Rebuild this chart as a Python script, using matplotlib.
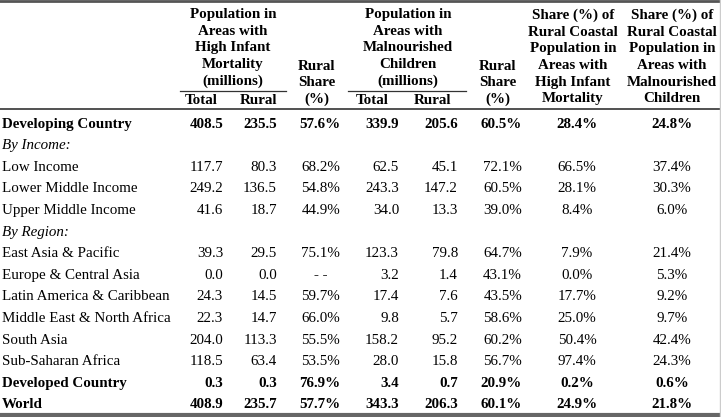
import matplotlib.pyplot as plt

# row labels and values
rows = ["Developing Country", "By Income:", "Low Income", "Lower Middle Income",
        "Upper Middle Income", "By Region:", "East Asia & Pacific",
        "Europe & Central Asia", "Latin America & Caribbean",
        "Middle East & North Africa", "South Asia", "Sub-Saharan Africa",
        "Developed Country", "World"]
bold_rows = ["Developing Country", "Developed Country", "World"]
section_rows = ["By Income:", "By Region:"]

him_total = ["408.5", "", "117.7", "249.2", "41.6", "", "39.3", "0.0", "24.3", "22.3", "204.0", "118.5", "0.3", "408.9"]
him_rural = ["235.5", "", "80.3", "136.5", "18.7", "", "29.5", "0.0", "14.5", "14.7", "113.3", "63.4", "0.3", "235.7"]
him_share = ["57.6%", "", "68.2%", "54.8%", "44.9%", "", "75.1%", "--", "59.7%", "66.0%", "55.5%", "53.5%", "76.9%", "57.7%"]
mal_total = ["339.9", "", "62.5", "243.3", "34.0", "", "123.3", "3.2", "17.4", "9.8", "158.2", "28.0", "3.4", "343.3"]
mal_rural = ["205.6", "", "45.1", "147.2", "13.3", "", "79.8", "1.4", "7.6", "5.7", "95.2", "15.8", "0.7", "206.3"]
mal_share = ["60.5%", "", "72.1%", "60.5%", "39.0%", "", "64.7%", "43.1%", "43.5%", "58.6%", "60.2%", "56.7%", "20.9%", "60.1%"]
coast_him = ["28.4%", "", "66.5%", "28.1%", "8.4%", "", "7.9%", "0.0%", "17.7%", "25.0%", "50.4%", "97.4%", "0.2%", "24.9%"]
coast_mal = ["24.8%", "", "37.4%", "30.3%", "6.0%", "", "21.4%", "5.3%", "9.2%", "9.7%", "42.4%", "24.3%", "0.6%", "21.8%"]

plt.rcParams['font.family'] = ['Liberation Serif', 'DejaVu Serif']
fs = 10.8

fig = plt.figure(figsize=(7.21, 4.17), dpi=100)
ax = fig.add_axes([0, 0, 1, 1])
ax.set_xlim(0, 721)
ax.set_ylim(417, 0)
ax.axis("off")

# borders and rules
ax.plot([0, 721], [1, 1], color="#555555", lw=2)
ax.plot([0, 721], [108.5, 108.5], color="#333333", lw=1.2)
ax.plot([0, 721], [415, 415], color="#666666", lw=3)
ax.plot([719.5, 719.5], [0, 417], color="#cccccc", lw=1)
ax.plot([180, 286], [90.5, 90.5], color="#333333", lw=0.9)
ax.plot([348, 466], [90.5, 90.5], color="#333333", lw=0.9)

hdr = dict(fontsize=fs, fontweight="bold", ha="center", va="center", linespacing=1.36)
ax.text(233, 48, "Population in\nAreas with\nHigh Infant\nMortality\n(millions)", **hdr)
ax.text(408, 48, "Population in\nAreas with\nMalnourished\nChildren\n(millions)", **hdr)
ax.text(317, 83, "Rural\nShare\n(%)", **hdr)
ax.text(498, 83, "Rural\nShare\n(%)", **hdr)
ax.text(573, 57, "Share (%) of\nRural Coastal\nPopulation in\nAreas with\nHigh Infant\nMortality", **hdr)
ax.text(672, 57, "Share (%) of\nRural Coastal\nPopulation in\nAreas with\nMalnourished\nChildren", **hdr)
for x, s in [(201, "Total"), (259, "Rural"), (372, "Total"), (433, "Rural")]:
    ax.text(x, 100, s, **hdr)

# body
y0, dy = 124, 21.6
right_cols = [(223, him_total), (277, him_rural), (340, him_share),
              (399, mal_total), (458, mal_rural), (522, mal_share)]
center_cols = [(577, coast_him), (672, coast_mal)]
for i, name in enumerate(rows):
    y = y0 + i * dy
    weight = "bold" if name in bold_rows else "normal"
    style = "italic" if name in section_rows else "normal"
    ax.text(2, y, name, fontsize=fs, fontweight=weight, fontstyle=style,
            ha="left", va="center")
    for x, col in right_cols:
        if col[i] == "--":
            # missing value is centred, drawn as two short dashes
            ax.text(x - 19, y, "- -", fontsize=fs, fontweight="bold",
                    ha="center", va="center")
            continue
        ax.text(x, y, col[i], fontsize=fs, fontweight=weight, ha="right", va="center")
    for x, col in center_cols:
        ax.text(x, y, col[i], fontsize=fs, fontweight=weight, ha="center", va="center")

fig.savefig("out.png", dpi=100)
